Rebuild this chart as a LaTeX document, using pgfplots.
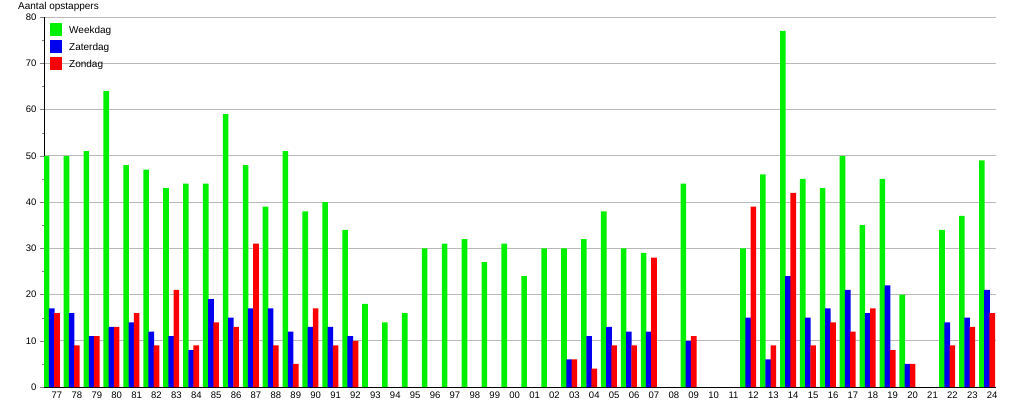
\documentclass[border=0pt]{standalone}
\usepackage{pgfplots}
\pgfplotsset{compat=1.18}
\usepackage{fontspec}
\setmainfont{Liberation Sans}

\definecolor{wkgreen}{RGB}{0,240,0}
\definecolor{zablue}{RGB}{0,0,240}
\definecolor{zored}{RGB}{250,0,0}
\definecolor{gridgray}{RGB}{185,185,185}

\begin{document}
\begin{tikzpicture}
\begin{axis}[
    at={(44pt,13pt)}, anchor=south west,
    scale only axis,
    width=952pt, height=370pt,
    ybar, bar width=5.6pt,
    xmin=-0.653, xmax=47.19,
    ymin=0, ymax=80,
    xtick={0,...,47},
    xticklabels={77,78,79,80,81,82,83,84,85,86,87,88,89,90,91,92,93,94,95,96,97,98,99,
                 00,01,02,03,04,05,06,07,08,09,10,11,12,13,14,15,16,17,18,19,20,21,22,23,24},
    ytick={0,10,...,80},
    minor y tick num=1,
    axis x line=bottom, axis y line=left,
    axis line style={-, black},
    tick align=outside,
    major tick length=4pt, minor tick length=2pt,
    xtick style={draw=none},
    ymajorgrids=true,
    grid style={gridgray, line width=0.8pt},
    /pgf/number format/assume math mode=true,
    ticklabel style={font=\fontsize{9.5}{11}\selectfont},
    xticklabel style={yshift=3pt},
    legend style={at={(0,1)}, anchor=north west, xshift=3pt, yshift=-4pt,
        draw=none, fill=none, row sep=4pt,
        nodes={inner sep=1pt, font=\fontsize{10}{12}\selectfont}},
    legend cell align=left,
    legend image code/.code={\path[#1] (0pt,-6pt) rectangle (12pt,7pt);},
]

% Weekdag
\addplot[fill=wkgreen, draw=none, bar shift=-10.4pt] coordinates {
    (0,50) (1,50) (2,51) (3,64) (4,48) (5,47) (6,43) (7,44) (8,44) (9,59)
    (10,48) (11,39) (12,51) (13,38) (14,40) (15,34) (16,18) (17,14) (18,16) (19,30)
    (20,31) (21,32) (22,27) (23,31) (24,24) (25,30) (26,30) (27,32) (28,38) (29,30)
    (30,29) (32,44) (35,30) (36,46) (37,77) (38,45) (39,43) (40,50) (41,35) (42,45)
    (43,20) (45,34) (46,37) (47,49)
};
\addlegendentry{\hspace{6pt}Weekdag}

% Zaterdag
\addplot[fill=zablue, draw=none, bar shift=-5.2pt] coordinates {
    (0,17) (1,16) (2,11) (3,13) (4,14) (5,12) (6,11) (7,8) (8,19) (9,15)
    (10,17) (11,17) (12,12) (13,13) (14,13) (15,11)
    (26,6) (27,11) (28,13) (29,12) (30,12) (32,10)
    (35,15) (36,6) (37,24) (38,15) (39,17) (40,21) (41,16) (42,22) (43,5)
    (45,14) (46,15) (47,21)
};
\addlegendentry{\hspace{6pt}Zaterdag}

% Zondag
\addplot[fill=zored, draw=none, bar shift=0pt] coordinates {
    (0,16) (1,9) (2,11) (3,13) (4,16) (5,9) (6,21) (7,9) (8,14) (9,13)
    (10,31) (11,9) (12,5) (13,17) (14,9) (15,10)
    (26,6) (27,4) (28,9) (29,9) (30,28) (32,11)
    (35,39) (36,9) (37,42) (38,9) (39,14) (40,12) (41,17) (42,8) (43,5)
    (45,9) (46,13) (47,16)
};
\addlegendentry{\hspace{6pt}Zondag}
\end{axis}
\node[anchor=west, inner sep=0pt, font=\fontsize{10}{12}\selectfont] at (18pt,393pt) {Aantal opstappers};
\pgfresetboundingbox
\path[use as bounding box] (0,0) rectangle (1015pt,400pt);
\end{tikzpicture}
\end{document}
